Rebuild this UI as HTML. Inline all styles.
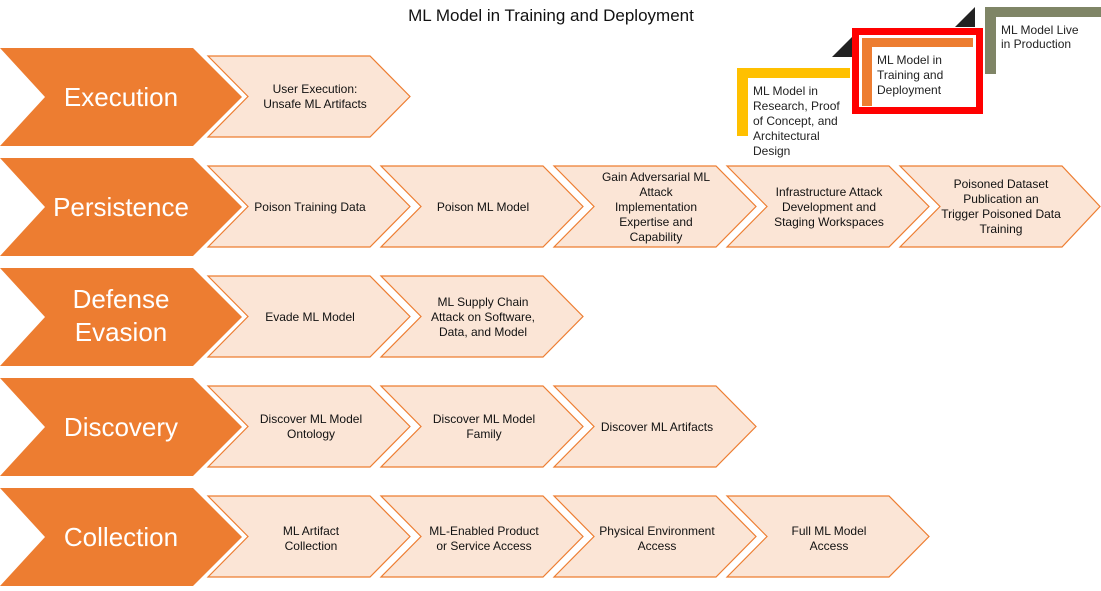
<!DOCTYPE html>
<html><head><meta charset="utf-8"><style>
html,body{margin:0;padding:0;background:#fff;}
svg{display:block;font-family:"Liberation Sans",Arial,sans-serif;}
</style></head><body>
<svg width="1101" height="591" viewBox="0 0 1101 591" xmlns="http://www.w3.org/2000/svg">
<text x="551" y="21" font-size="17" text-anchor="middle" fill="#111">ML Model in Training and Deployment</text>

<!-- legend -->
<polygon points="832,57 852,37 852,57" fill="#222"/>
<polygon points="955,27 975,7 975,27" fill="#222"/>
<rect x="737" y="68" width="113" height="10" fill="#FFC000"/>
<rect x="737" y="68" width="11" height="68" fill="#FFC000"/>
<text font-size="12" fill="#222"><tspan x="753" y="95">ML Model in</tspan><tspan x="753" y="110">Research, Proof</tspan><tspan x="753" y="125">of Concept, and</tspan><tspan x="753" y="140">Architectural</tspan><tspan x="753" y="155">Design</tspan></text>
<rect x="855.5" y="31.5" width="124" height="79" fill="none" stroke="#FF0000" stroke-width="7"/>
<rect x="862" y="38" width="111" height="9" fill="#ED7D31"/>
<rect x="862" y="38" width="10" height="68" fill="#ED7D31"/>
<text font-size="12" fill="#222"><tspan x="877" y="64">ML Model in</tspan><tspan x="877" y="79">Training and</tspan><tspan x="877" y="94">Deployment</tspan></text>
<rect x="985" y="7" width="116" height="10" fill="#7F8566"/>
<rect x="985" y="7" width="11" height="67" fill="#7F8566"/>
<text font-size="12" fill="#222"><tspan x="1001" y="34">ML Model Live</tspan><tspan x="1001" y="48">in Production</tspan></text>

<g id="rows" font-size="12" fill="#111" text-anchor="middle">
<!-- big chevrons -->
<g fill="#ED7D31">
<polygon points="0,48 193,48 242,97 193,146 0,146 45,97"/>
<polygon points="0,158 193,158 242,207 193,256 0,256 45,207"/>
<polygon points="0,268 193,268 242,317 193,366 0,366 45,317"/>
<polygon points="0,378 193,378 242,427 193,476 0,476 45,427"/>
<polygon points="0,488 193,488 242,537 193,586 0,586 45,537"/>
</g>
<g fill="#fff" font-size="26">
<text x="121" y="106">Execution</text>
<text x="121" y="216">Persistence</text>
<text x="121" y="308">Defense</text>
<text x="121" y="341">Evasion</text>
<text x="121" y="436">Discovery</text>
<text x="121" y="546">Collection</text>
</g>
<!-- small chevrons -->
<g fill="#FBE5D6" stroke="#ED7D31" stroke-width="1.2">
<polygon points="208,56 370,56 410,96.5 370,137 208,137 248,96.5"/>
<polygon points="208,166 370,166 410,206.5 370,247 208,247 248,206.5"/>
<polygon points="381,166 543,166 583,206.5 543,247 381,247 421,206.5"/>
<polygon points="554,166 716,166 756,206.5 716,247 554,247 594,206.5"/>
<polygon points="727,166 889,166 929,206.5 889,247 727,247 767,206.5"/>
<polygon points="900,166 1062,166 1100,206.5 1062,247 900,247 940,206.5"/>
<polygon points="208,276 370,276 410,316.5 370,357 208,357 248,316.5"/>
<polygon points="381,276 543,276 583,316.5 543,357 381,357 421,316.5"/>
<polygon points="208,386 370,386 410,426.5 370,467 208,467 248,426.5"/>
<polygon points="381,386 543,386 583,426.5 543,467 381,467 421,426.5"/>
<polygon points="554,386 716,386 756,426.5 716,467 554,467 594,426.5"/>
<polygon points="208,496 370,496 410,536.5 370,577 208,577 248,536.5"/>
<polygon points="381,496 543,496 583,536.5 543,577 381,577 421,536.5"/>
<polygon points="554,496 716,496 756,536.5 716,577 554,577 594,536.5"/>
<polygon points="727,496 889,496 929,536.5 889,577 727,577 767,536.5"/>
</g>
<text><tspan x="315" y="93">User Execution:</tspan><tspan x="315" y="108">Unsafe ML Artifacts</tspan></text>
<text x="310" y="211">Poison Training Data</text>
<text x="483" y="211">Poison ML Model</text>
<text><tspan x="656" y="181">Gain Adversarial ML</tspan><tspan x="656" y="196">Attack</tspan><tspan x="656" y="211">Implementation</tspan><tspan x="656" y="226">Expertise and</tspan><tspan x="656" y="241">Capability</tspan></text>
<text><tspan x="829" y="196">Infrastructure Attack</tspan><tspan x="829" y="211">Development and</tspan><tspan x="829" y="226">Staging Workspaces</tspan></text>
<text><tspan x="1001" y="188">Poisoned Dataset</tspan><tspan x="1001" y="203">Publication an</tspan><tspan x="1001" y="218">Trigger Poisoned Data</tspan><tspan x="1001" y="233">Training</tspan></text>
<text x="310" y="321">Evade ML Model</text>
<text><tspan x="483" y="306">ML Supply Chain</tspan><tspan x="483" y="321">Attack on Software,</tspan><tspan x="483" y="336">Data, and Model</tspan></text>
<text><tspan x="311" y="423">Discover ML Model</tspan><tspan x="311" y="438">Ontology</tspan></text>
<text><tspan x="484" y="423">Discover ML Model</tspan><tspan x="484" y="438">Family</tspan></text>
<text x="657" y="431">Discover ML Artifacts</text>
<text><tspan x="311" y="535">ML Artifact</tspan><tspan x="311" y="550">Collection</tspan></text>
<text><tspan x="484" y="535">ML-Enabled Product</tspan><tspan x="484" y="550">or Service Access</tspan></text>
<text><tspan x="657" y="535">Physical Environment</tspan><tspan x="657" y="550">Access</tspan></text>
<text><tspan x="829" y="535">Full ML Model</tspan><tspan x="829" y="550">Access</tspan></text>
</g>
</svg>
</body></html>
